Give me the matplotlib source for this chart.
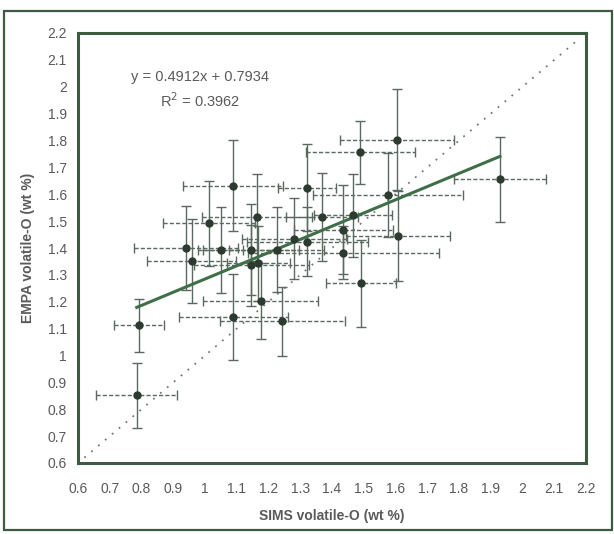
import matplotlib
matplotlib.use("Agg")
import matplotlib.pyplot as plt
from matplotlib.patches import Rectangle
import numpy as np

plt.rcParams['font.family'] = ['Liberation Sans', 'DejaVu Sans']

# SIMS (x) vs EMPA (y) volatile-O, wt %
sims = [0.785, 0.792, 0.939, 0.958, 1.014, 1.049, 1.089, 1.089, 1.145, 1.146,
        1.165, 1.168, 1.176, 1.226, 1.244, 1.281, 1.321, 1.322, 1.368, 1.436,
        1.436, 1.466, 1.489, 1.491, 1.577, 1.604, 1.607, 1.929]
empa = [0.852, 1.112, 1.400, 1.352, 1.492, 1.394, 1.632, 1.143, 1.394, 1.335,
        1.515, 1.343, 1.203, 1.394, 1.127, 1.435, 1.625, 1.424, 1.515, 1.468,
        1.383, 1.521, 1.757, 1.268, 1.597, 1.802, 1.445, 1.655]
sims_err = [0.127, 0.079, 0.164, 0.140, 0.145, 0.070, 0.157, 0.171, 0.150, 0.180,
            0.173, 0.100, 0.181, 0.150, 0.196, 0.165, 0.092, 0.190, 0.114, 0.155,
            0.300, 0.123, 0.171, 0.111, 0.237, 0.180, 0.164, 0.145]
empa_err = [0.120, 0.099, 0.156, 0.157, 0.158, 0.160, 0.169, 0.161, 0.170, 0.150,
            0.162, 0.140, 0.140, 0.157, 0.128, 0.150, 0.162, 0.130, 0.164, 0.165,
            0.100, 0.155, 0.117, 0.161, 0.155, 0.188, 0.166, 0.159]

slope = 0.4912
intercept = 0.7934
r2 = 0.3962
one_to_one = [0.62, 2.17]
ticks = [0.6, 0.7, 0.8, 0.9, 1, 1.1, 1.2, 1.3, 1.4, 1.5, 1.6, 1.7, 1.8, 1.9, 2, 2.1, 2.2]
tick_labels = ['0.6', '0.7', '0.8', '0.9', '1', '1.1', '1.2', '1.3', '1.4', '1.5',
               '1.6', '1.7', '1.8', '1.9', '2', '2.1', '2.2']

frame_c = '#3d5a43'
bar_c = '#5b6a60'
dot_c = '#2c3a30'
text_c = '#5a5a5a'

fig = plt.figure(figsize=(6.14, 5.34), dpi=100)
ax = fig.add_axes([78 / 614, 71 / 534, 508 / 614, 430 / 534])

# outer frame of the figure
fig.patches.append(Rectangle((4 / 614, 4 / 534), 608 / 614, 519 / 534,
                             transform=fig.transFigure, fill=False,
                             edgecolor=frame_c, linewidth=1.6))

# 1:1 line
ax.plot(one_to_one, one_to_one, linestyle=(0, (1, 4)), color='#777777',
        linewidth=1.3, zorder=1)

# x error bars dashed, y error bars solid
ebx = ax.errorbar(sims, empa, xerr=sims_err, fmt='none', ecolor=bar_c,
                  elinewidth=1.0, capsize=3.5, capthick=1.0, zorder=2)
ebx[2][0].set_linestyle((0, (3, 1.5)))
ax.errorbar(sims, empa, yerr=empa_err, fmt='none', ecolor=bar_c,
            elinewidth=1.0, capsize=3.5, capthick=1.0, zorder=2)

ax.plot(sims, empa, 'o', color=dot_c, markersize=5, zorder=4)

# regression line over the data range
xs = np.array([min(sims), max(sims)])
ax.plot(xs, slope * xs + intercept, color='#3f6f48', linewidth=2.2, zorder=3)

ax.text(0.984, 2.038, 'y = %.4fx + %.4f' % (slope, intercept), ha='center',
        va='center', fontsize=10.5, color=text_c)
ax.text(0.984, 1.947, 'R$^2$ = %.4f' % r2, ha='center', va='center',
        fontsize=10.5, color=text_c)

ax.set_xlim(0.6, 2.2)
ax.set_ylim(0.6, 2.2)
ax.set_xticks(ticks)
ax.set_xticklabels(tick_labels)
ax.set_yticks(ticks)
ax.set_yticklabels(tick_labels)
ax.tick_params(length=0, labelsize=10, labelcolor=text_c)
ax.tick_params(axis='x', pad=14)
ax.tick_params(axis='y', pad=8)
for s in ax.spines.values():
    s.set_color(frame_c)
    s.set_linewidth(2.2)

ax.set_xlabel('SIMS volatile-O (wt %)', fontsize=10, fontweight='bold',
              color=text_c, labelpad=9)
ax.set_ylabel('EMPA volatile-O (wt %)', fontsize=10, fontweight='bold',
              color=text_c, labelpad=9)

fig.savefig('out.png', dpi=100)
